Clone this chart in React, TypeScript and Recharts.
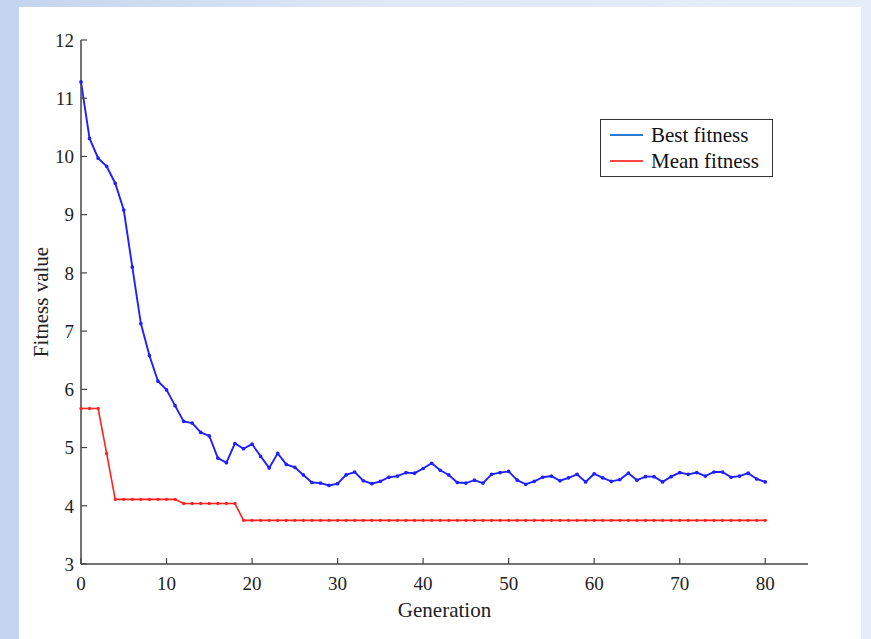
import React from 'react';
import { LineChart, Line, XAxis, YAxis } from 'recharts';

const bestFitness = [
  11.28, 10.31, 9.97, 9.83, 9.54, 9.08, 8.1, 7.13, 6.58, 6.14,
  5.99, 5.72, 5.45, 5.42, 5.26, 5.2, 4.82, 4.74, 5.07, 4.98,
  5.06, 4.85, 4.65, 4.9, 4.71, 4.66, 4.53, 4.4, 4.39, 4.35,
  4.38, 4.53, 4.58, 4.43, 4.38, 4.42, 4.49, 4.51, 4.57, 4.56,
  4.64, 4.73, 4.61, 4.53, 4.4, 4.39, 4.44, 4.39, 4.54, 4.57,
  4.59, 4.44, 4.37, 4.42, 4.49, 4.51, 4.43, 4.48, 4.54, 4.41,
  4.55, 4.48, 4.42, 4.45, 4.56, 4.44, 4.5, 4.5, 4.41, 4.5,
  4.57, 4.54, 4.57, 4.51, 4.58, 4.58, 4.49, 4.51, 4.56, 4.46,
  4.41,
];

const meanFitness = [
  5.67, 5.67, 5.67, 4.9, 4.11, 4.11, 4.11, 4.11, 4.11, 4.11,
  4.11, 4.11, 4.04, 4.04, 4.04, 4.04, 4.04, 4.04, 4.04, 3.75,
  3.75, 3.75, 3.75, 3.75, 3.75, 3.75, 3.75, 3.75, 3.75, 3.75,
  3.75, 3.75, 3.75, 3.75, 3.75, 3.75, 3.75, 3.75, 3.75, 3.75,
  3.75, 3.75, 3.75, 3.75, 3.75, 3.75, 3.75, 3.75, 3.75, 3.75,
  3.75, 3.75, 3.75, 3.75, 3.75, 3.75, 3.75, 3.75, 3.75, 3.75,
  3.75, 3.75, 3.75, 3.75, 3.75, 3.75, 3.75, 3.75, 3.75, 3.75,
  3.75, 3.75, 3.75, 3.75, 3.75, 3.75, 3.75, 3.75, 3.75, 3.75,
  3.75,
];

const xTicks = [0, 10, 20, 30, 40, 50, 60, 70, 80];
const yTicks = [3, 4, 5, 6, 7, 8, 9, 10, 11, 12];

const legendItems = [
  { label: 'Best fitness', color: '#2a78d8' },
  { label: 'Mean fitness', color: '#ff4545' },
];

const data = bestFitness.map((b, i) => ({ gen: i, best: b, mean: meanFitness[i] }));

const font = '"Liberation Serif", "Times New Roman", serif';

function LegendBox() {
  return (
    <div
      style={{
        position: 'absolute',
        left: 600,
        top: 119,
        border: '1.5px solid #333',
        background: '#fff',
        width: 173,
        height: 58,
        boxSizing: 'border-box',
        padding: '2px 0 0 9px',
        fontFamily: font,
        fontSize: 21,
        color: '#111',
      }}
    >
      {legendItems.map((it) => (
        <div key={it.label} style={{ display: 'flex', alignItems: 'center', height: 26 }}>
          <span style={{ width: 33, height: 2.5, background: it.color, marginRight: 8 }} />
          <span>{it.label}</span>
        </div>
      ))}
    </div>
  );
}

export default function App() {
  return (
    <div
      style={{
        position: 'fixed',
        left: 0,
        top: 0,
        width: 871,
        height: 639,
        background: 'linear-gradient(90deg, #c4d4ee 0%, #dfe8f6 45%, #e6edf8 100%)',
      }}
    >
      <div style={{ position: 'absolute', left: 19, top: 7, right: 10, bottom: 0, background: '#fff' }} />
      <div style={{ position: 'absolute', left: 0, top: 0 }}>
        <LineChart
          width={871}
          height={639}
          data={data}
          margin={{ top: 40, right: 63, left: 0, bottom: 0 }}
        >
          <XAxis
            dataKey="gen"
            type="number"
            domain={[0, 85]}
            ticks={xTicks}
            height={75}
            tickSize={-6}
            tickMargin={19}
            axisLine={{ stroke: '#444', strokeWidth: 1.5 }}
            tickLine={{ stroke: '#444', strokeWidth: 1.2 }}
            tick={{ fill: '#222', fontFamily: font, fontSize: 19 }}
            label={{
              value: 'Generation',
              position: 'insideBottom',
              offset: 22,
              fill: '#222',
              fontFamily: font,
              fontSize: 21,
            }}
          />
          <YAxis
            type="number"
            domain={[3, 12]}
            ticks={yTicks}
            width={81}
            tickSize={-6}
            tickMargin={13}
            axisLine={{ stroke: '#444', strokeWidth: 1.5 }}
            tickLine={{ stroke: '#444', strokeWidth: 1.2 }}
            tick={{ fill: '#222', fontFamily: font, fontSize: 19 }}
            label={{
              value: 'Fitness value',
              angle: -90,
              position: 'center',
              fill: '#222',
              fontFamily: font,
              fontSize: 21,
            }}
          />
          <Line
            type="linear"
            dataKey="best"
            stroke="#1f1fff"
            strokeWidth={1.9}
            dot={{ r: 0.9, fill: '#1f1fff', stroke: '#1f1fff' }}
            isAnimationActive={false}
          />
          <Line
            type="linear"
            dataKey="mean"
            stroke="#ff2020"
            strokeWidth={1.6}
            dot={{ r: 0.9, fill: '#ff2020', stroke: '#ff2020' }}
            isAnimationActive={false}
          />
        </LineChart>
      </div>
      <LegendBox />
    </div>
  );
}
